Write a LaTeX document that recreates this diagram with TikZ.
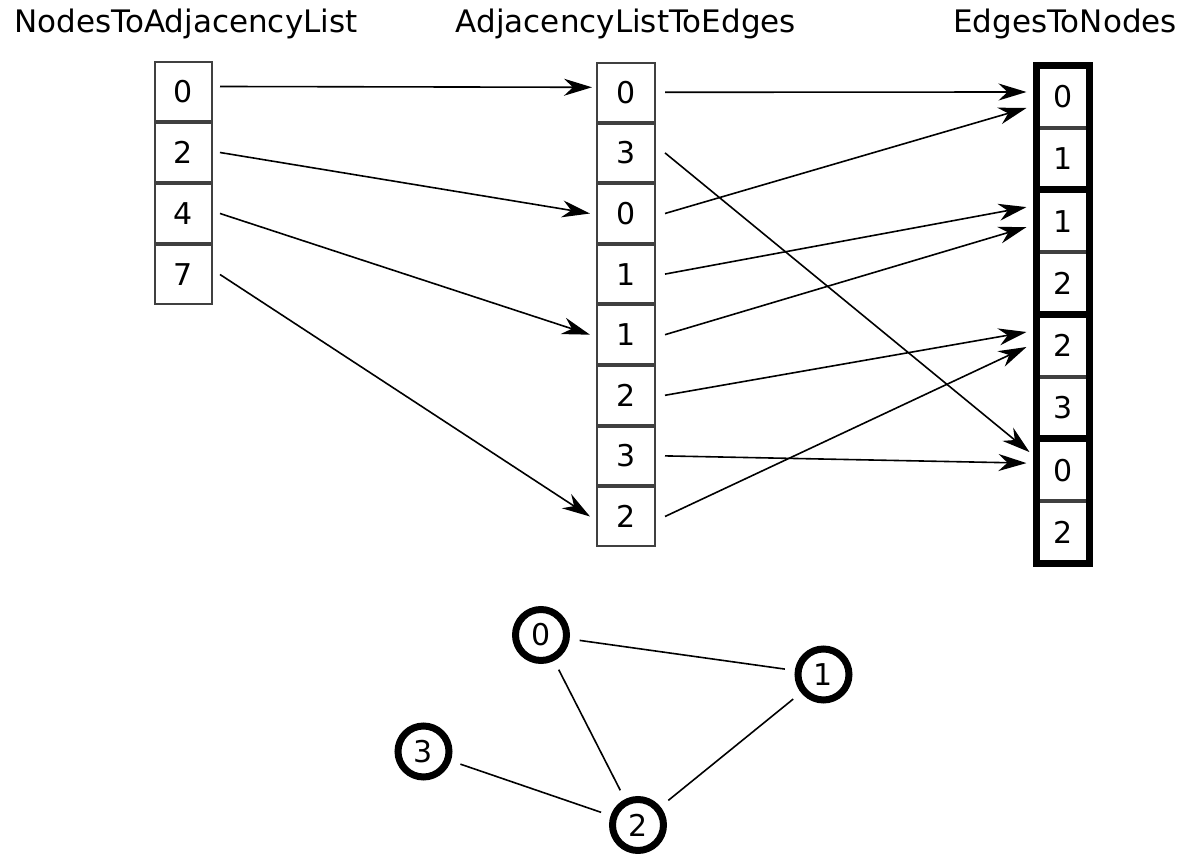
\documentclass[tikz,border=0pt]{standalone}
\usepackage{fontspec}
\setmainfont{DejaVu Sans}
\usetikzlibrary{arrows.meta,positioning}

\begin{document}
\begin{tikzpicture}[x=0.5pt,y=-0.5pt,
  title/.style={font=\fontsize{15.5}{18}\selectfont},
  cell/.style={draw=black!75,line width=1pt,inner sep=0pt,font=\fontsize{15}{18}\selectfont},
  ncell/.style={cell,minimum width=28.5pt,minimum height=29.5pt},
  acell/.style={cell,minimum width=29pt,minimum height=29.3pt},
  ecell/.style={cell,minimum width=25.5pt,minimum height=30.125pt},
  pair/.style={line width=3.5pt},
  link/.style={line width=0.8pt,-{Stealth[length=14pt,width=8.5pt,inset=4.5pt]}},
  vertex/.style={circle,draw,line width=3.5pt,minimum size=25.5pt,inner sep=0pt,font=\fontsize{15}{18}\selectfont},
  edge/.style={line width=0.8pt,shorten <=5pt,shorten >=5pt}]
\useasboundingbox (0,0) rectangle (1196,854);

\node[title] (tn) at (186,24) {NodesToAdjacencyList};
\node[title] (ta) at (626,24) {AdjacencyListToEdges};
\node[title] (te) at (1065,24) {EdgesToNodes};

\node[ncell] (n0) at (183.5,91.5) {0};
\node[ncell,below=0pt of n0] (n1) {2};
\node[ncell,below=0pt of n1] (n2) {4};
\node[ncell,below=0pt of n2] (n3) {7};

\node[acell] (a0) at (626,92.3) {0};
\node[acell,below=0pt of a0] (a1) {3};
\node[acell,below=0pt of a1] (a2) {0};
\node[acell,below=0pt of a2] (a3) {1};
\node[acell,below=0pt of a3] (a4) {1};
\node[acell,below=0pt of a4] (a5) {2};
\node[acell,below=0pt of a5] (a6) {3};
\node[acell,below=0pt of a6] (a7) {2};

\node[ecell] (e0a) at (1063,96.6) {0};
\node[ecell,below=0pt of e0a] (e0b) {1};
\node[ecell,below=0pt of e0b] (e1a) {1};
\node[ecell,below=0pt of e1a] (e1b) {2};
\node[ecell,below=0pt of e1b] (e2a) {2};
\node[ecell,below=0pt of e2a] (e2b) {3};
\node[ecell,below=0pt of e2b] (e3a) {0};
\node[ecell,below=0pt of e3a] (e3b) {2};
\draw[pair] (e0a.north west) rectangle (e0b.south east);
\draw[pair] (e1a.north west) rectangle (e1b.south east);
\draw[pair] (e2a.north west) rectangle (e2b.south east);
\draw[pair] (e3a.north west) rectangle (e3b.south east);

\draw[link] ([xshift=3.5pt,yshift=2.5pt]n0.east) -- ([xshift=-2pt,yshift=2.5pt]a0.west);
\draw[link] ([xshift=3.5pt]n1.east) -- ([xshift=-3pt]a2.west);
\draw[link] ([xshift=3.5pt]n2.east) -- ([xshift=-3pt]a4.west);
\draw[link] ([xshift=3.5pt]n3.east) -- ([xshift=-3pt]a7.west);

\draw[link] ([xshift=4.5pt]a0.east) -- ([xshift=-5pt,yshift=2.3pt]e0a.west);
\draw[link] ([xshift=4.5pt]a2.east) -- ([xshift=-5pt,yshift=-5.7pt]e0a.west);
\draw[link] ([xshift=4.5pt]a3.east) -- ([xshift=-5pt,yshift=7pt]e1a.west);
\draw[link] ([xshift=4.5pt]a4.east) -- ([xshift=-5pt,yshift=-3pt]e1a.west);
\draw[link] ([xshift=4.5pt]a5.east) -- ([xshift=-5pt,yshift=6.8pt]e2a.west);
\draw[link] ([xshift=4.5pt]a7.east) -- ([xshift=-5pt,yshift=-0.7pt]e2a.west);
\draw[link] ([xshift=4.5pt]a1.east) -- ([xshift=-3.5pt,yshift=9pt]e3a.west);
\draw[link] ([xshift=4.5pt]a6.east) -- ([xshift=-5pt,yshift=3.5pt]e3a.west);

\node[vertex] (v0) at (541,635) {0};
\node[vertex] (v1) at (823.5,674.5) {1};
\node[vertex] (v3) at (423.5,751.5) {3};
\node[vertex] (v2) at (638,825) {2};
\draw[edge] (v0) -- (v1);
\draw[edge] (v0) -- (v2);
\draw[edge] (v1) -- (v2);
\draw[edge] (v3) -- (v2);
\end{tikzpicture}
\end{document}
